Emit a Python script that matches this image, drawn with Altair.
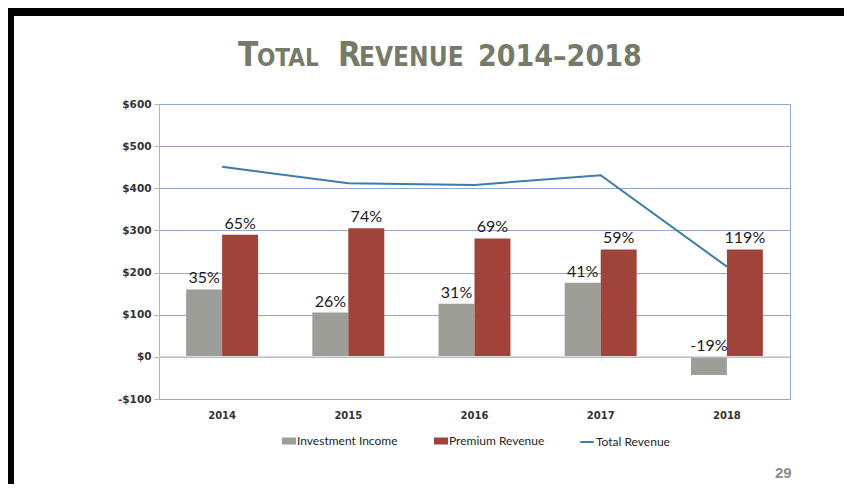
import altair as alt
import pandas as pd

# ---- data ----
years = ["2014", "2015", "2016", "2017", "2018"]
investment_income = [160, 105, 126, 176, -43]
premium_revenue = [290, 305, 281, 255, 255]
total_revenue = [451, 412, 408, 431, 214]
investment_pct = ["35%", "26%", "31%", "41%", "-19%"]
premium_pct = ["65%", "74%", "69%", "59%", "119%"]
bar_series = ["Investment Income", "Premium Revenue"]
line_series = "Total Revenue"
y_ticks = [-100, 0, 100, 200, 300, 400, 500, 600]
title_parts = ["T", "OTAL", "R", "EVENUE", "2014\u20132018"]
page_number = "29"

GRAY = "#9D9E97"
RED = "#A0433B"
BLUE = "#3A7DA8"
GRID = "#8FAACB"
TITLE_COLOR = "#767A69"
TITLE_FONT = "Liberation Sans Narrow, Arial Narrow, DejaVu Sans Condensed, sans-serif"
LABEL_FONT = "Lato"

bars_df = pd.DataFrame({
    "year": years * 2,
    "series": [bar_series[0]] * len(years) + [bar_series[1]] * len(years),
    "value": investment_income + premium_revenue,
    "label": investment_pct + premium_pct,
})
line_df = pd.DataFrame({"year": years, "value": total_revenue,
                        "series": [line_series] * len(years)})
one = pd.DataFrame({"k": [0]})

W, H = 631, 295

x_scale = alt.Scale(domain=years, paddingInner=0.43, paddingOuter=0.215)
y_scale = alt.Scale(domain=[-100, 600], nice=False, zero=False)

x_enc = alt.X("year:N", scale=x_scale, sort=years,
              axis=alt.Axis(title=None, labelAngle=0, domain=False, ticks=False,
                            labelPadding=11, labelFont="DejaVu Sans", labelFontSize=10,
                            labelFontWeight="bold", labelColor="#333333", grid=False))
y_axis = alt.Axis(title=None, values=y_ticks,
                  labelExpr="datum.value < 0 ? '-$' + abs(datum.value) : '$' + datum.value",
                  grid=True, gridColor=GRID, gridWidth=1, domainColor="#A9B4C2",
                  tickColor="#A9B4C2", tickSize=5, labelPadding=3,
                  labelFont="DejaVu Sans", labelFontSize=10.5, labelFontWeight="bold",
                  labelColor="#333333")

bars = alt.Chart(bars_df).mark_bar().encode(
    x=x_enc,
    xOffset=alt.XOffset("series:N", scale=alt.Scale(domain=bar_series, paddingInner=0, paddingOuter=0)),
    y=alt.Y("value:Q", scale=y_scale, axis=y_axis),
    color=alt.Color("series:N", scale=alt.Scale(domain=bar_series, range=[GRAY, RED]),
                    legend=alt.Legend(orient="none", legendX=123, legendY=330,
                                      direction="horizontal", title=None,
                                      symbolType="M-1,-0.5H1V0.5H-1Z", symbolSize=196,
                                      symbolStrokeWidth=0, labelFont=LABEL_FONT,
                                      labelFontSize=12, labelColor="#262626",
                                      labelOffset=1, columnPadding=36, padding=0)),
)

zero_line = alt.Chart(one).mark_rule(color="#D9D9D9", strokeWidth=1.5).encode(
    y=alt.Y("k:Q", scale=y_scale),
)

labels = alt.Chart(bars_df).transform_calculate(
    ly="max(datum.value, 0)"
).mark_text(baseline="bottom", dy=-3, font=LABEL_FONT, fontSize=16, color="#1a1a1a").encode(
    x=alt.X("year:N", scale=x_scale, sort=years),
    xOffset=alt.XOffset("series:N", scale=alt.Scale(domain=bar_series, paddingInner=0, paddingOuter=0)),
    y=alt.Y("ly:Q", scale=y_scale),
    text="label:N",
)

line = alt.Chart(line_df).mark_line(strokeWidth=2).encode(
    x=alt.X("year:N", scale=x_scale, sort=years),
    y=alt.Y("value:Q", scale=y_scale),
    stroke=alt.Stroke("series:N", scale=alt.Scale(domain=[line_series], range=[BLUE]),
                      legend=alt.Legend(orient="none", legendX=420, legendY=330,
                                        direction="horizontal", title=None,
                                        symbolType="stroke", symbolSize=182,
                                        symbolStrokeWidth=2, labelFont=LABEL_FONT,
                                        labelFontSize=12, labelColor="#262626",
                                        labelOffset=1, padding=0)),
)

# ---- slide decorations: title in small caps, page number, black frame ----
title_x = [79, 98, 179, 200, 319]
title_size = [33, 24, 33, 26, 30]
title_layers = [
    alt.Chart(one).mark_text(align="left", baseline="alphabetic", font=TITLE_FONT,
                             fontWeight="bold", fontSize=s, color=TITLE_COLOR).encode(
        x=alt.value(xv), y=alt.value(-38), text=alt.value(t))
    for t, xv, s in zip(title_parts, title_x, title_size)
]

page = alt.Chart(one).mark_text(align="left", baseline="alphabetic", font="Liberation Sans",
                                fontWeight="bold", fontSize=15, color="#8C8C8C").encode(
    x=alt.value(616), y=alt.value(374), text=alt.value(page_number))

frame_top = alt.Chart(one).mark_rect(color="black").encode(
    x=alt.value(-151), x2=alt.value(700), y=alt.value(-96), y2=alt.value(-88))
frame_left = alt.Chart(one).mark_rect(color="black").encode(
    x=alt.value(-151), x2=alt.value(-145), y=alt.value(-96), y2=alt.value(400))

chart = alt.layer(
    bars, zero_line, labels, line, *title_layers, page, frame_top, frame_left
).resolve_scale(color="independent", stroke="independent").properties(
    width=W, height=H,
    autosize=alt.AutoSizeParams(type="none"),
    padding={"left": 151, "top": 96, "right": 54, "bottom": 85},
    background="white",
).configure_view(stroke=GRID, strokeWidth=1)

chart.save("out.html", embed_options={"renderer": "svg", "actions": False})
